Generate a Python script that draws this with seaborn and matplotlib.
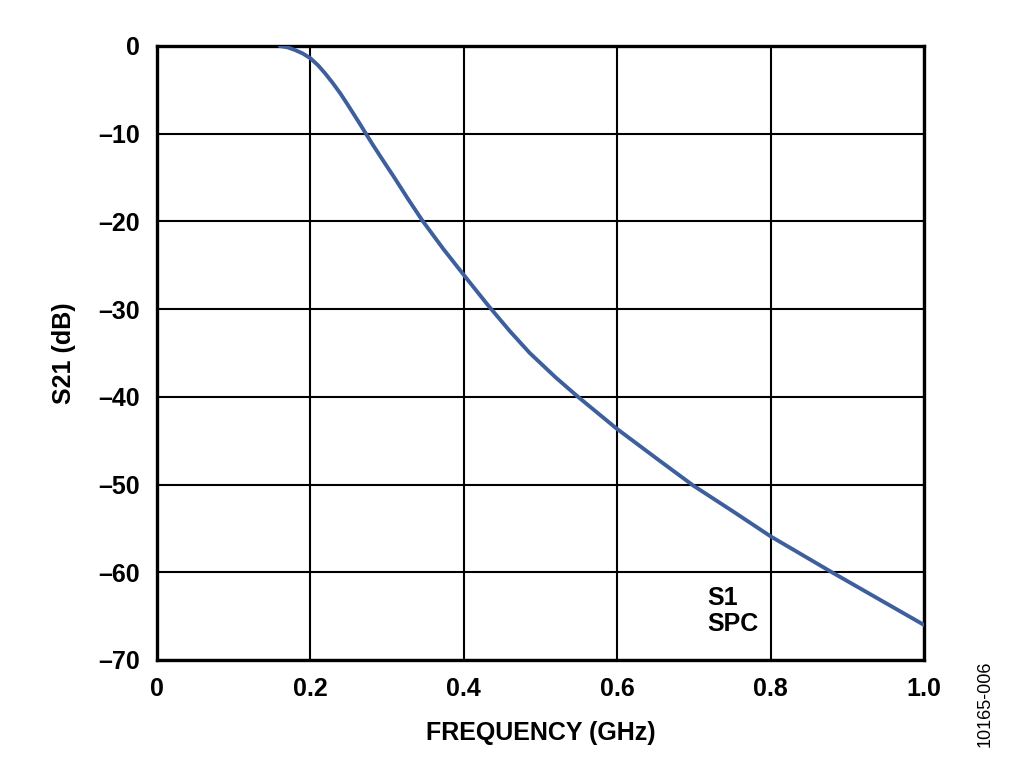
import matplotlib
matplotlib.use("Agg")
import numpy as np
import pandas as pd
import matplotlib.pyplot as plt
import seaborn as sns

# values
freq_ghz = [0.160, 0.170, 0.180, 0.190, 0.200, 0.210, 0.219, 0.229, 0.239,
            0.248, 0.256, 0.264, 0.271, 0.281, 0.291, 0.300, 0.308, 0.327,
            0.346, 0.373, 0.400, 0.432, 0.460, 0.486, 0.520, 0.549, 0.599,
            0.651, 0.699, 0.750, 0.800, 0.880, 0.940, 1.000]
s21_db = [0.0, -0.15, -0.46, -0.85, -1.4, -2.2, -3.1, -4.2, -5.4,
          -6.6, -7.7, -8.8, -9.8, -11.2, -12.55, -13.75, -14.8, -17.4,
          -19.9, -23.1, -26.1, -29.6, -32.5, -35.0, -37.8, -40.0, -43.6,
          -47.0, -50.1, -53.0, -55.9, -60.0, -63.0, -66.0]

x_ticks = [0, 0.2, 0.4, 0.6, 0.8, 1.0]
x_tick_labels = ["0", "0.2", "0.4", "0.6", "0.8", "1.0"]
y_ticks = [0, -10, -20, -30, -40, -50, -60, -70]
y_tick_labels = ["0", "\u201310", "\u201320", "\u201330", "\u201340", "\u201350", "\u201360", "\u201370"]

df = pd.DataFrame({"freq": freq_ghz, "s21": s21_db})

sns.set_style("white")
plt.rcParams["font.family"] = ["Liberation Sans", "DejaVu Sans"]
plt.rcParams.update({"text.color": "black", "axes.labelcolor": "black",
                     "xtick.color": "black", "ytick.color": "black"})

fig = plt.figure(figsize=(10.24, 7.77), dpi=100)
ax = fig.add_axes([0.1533, 0.1506, 0.7490, 0.7902])

sns.lineplot(data=df, x="freq", y="s21", ax=ax, color="#3d5f9e",
             linewidth=2.8, zorder=3, solid_joinstyle="round")

ax.set_xlim(0, 1.0)
ax.set_ylim(-70, 0)
ax.set_xticks(x_ticks)
ax.set_xticklabels(x_tick_labels)
ax.set_yticks(y_ticks)
ax.set_yticklabels(y_tick_labels)
ax.tick_params(length=0, labelsize=18)
ax.tick_params(axis="x", pad=12)
ax.tick_params(axis="y", pad=12)
for lab in ax.get_xticklabels() + ax.get_yticklabels():
    lab.set_fontweight("bold")

ax.grid(True, color="black", linewidth=1.5)
for sp in ax.spines.values():
    sp.set_visible(True)
    sp.set_color("black")
    sp.set_linewidth(2.4)

ax.set_xlabel("FREQUENCY (GHz)", fontsize=18, fontweight="bold", labelpad=15)
ax.set_ylabel("S21 (dB)", fontsize=18, fontweight="bold", labelpad=16)

ax.text(0.718, -61.6, "S1\nSPC", fontsize=18, fontweight="bold",
        va="top", ha="left", linespacing=1.1)
fig.text(0.962, 0.094, "10165-006", rotation=90, fontsize=13,
         ha="center", va="center")

fig.savefig("out.png", dpi=100)
